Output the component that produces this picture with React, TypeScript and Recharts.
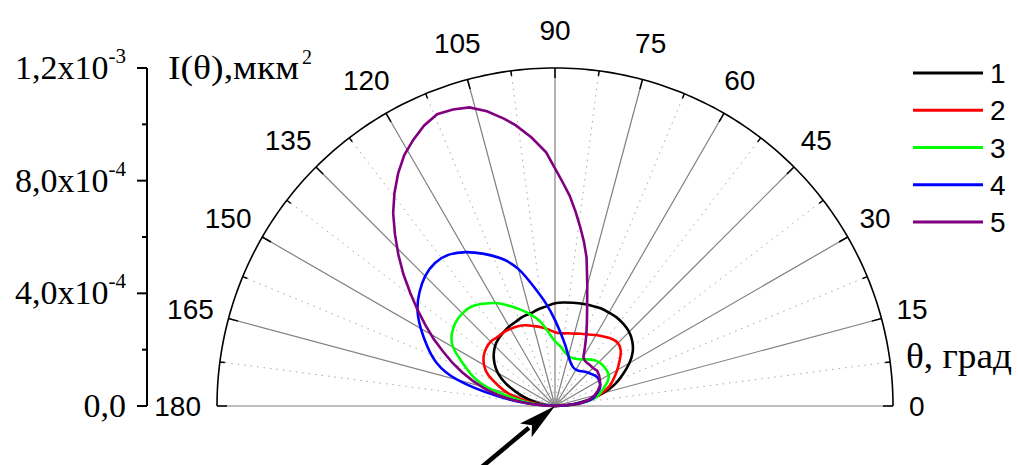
import React from 'react';
import { ComposedChart, Line, XAxis, YAxis, ReferenceLine, ReferenceDot, Legend } from 'recharts';

// ---------- data (radius values in units of 1e-4 µm²) ----------
const UNIT = 1e-4;
const R_MAX = 1.2e-3;

const ANGLES_5 = [0, 5, 10, 15, 20, 25, 30, 35, 40, 45, 50, 55, 60, 65, 70, 75, 80, 85, 90, 95, 100, 105, 110, 115, 120, 125, 130, 135, 140, 145, 150, 155, 160, 165, 170, 175, 180];

const R1 = [0, 0.53, 1.17, 1.77, 2.27, 2.66, 3.05, 3.37, 3.58, 3.72, 3.79, 3.83, 3.83, 3.83, 3.79, 3.76, 3.72, 3.69, 3.65, 3.55, 3.48, 3.4, 3.37, 3.3, 3.26, 3.19, 3.12, 3.01, 2.84, 2.62, 2.34, 1.95, 1.49, 1.06, 0.64, 0.28, 0];
const R2 = [0, 0.64, 1.28, 1.7, 2.06, 2.3, 2.55, 2.8, 3.05, 3.16, 3.12, 3.01, 2.91, 2.8, 2.73, 2.66, 2.62, 2.59, 2.62, 2.73, 2.84, 2.94, 3.05, 3.12, 3.16, 3.19, 3.19, 3.23, 3.19, 3.09, 2.91, 2.62, 2.16, 1.7, 1.06, 0.5, 0];
const R3 = [0, 0.71, 1.35, 1.63, 1.84, 2.06, 2.2, 2.23, 2.23, 2.2, 2.13, 2.02, 1.91, 1.84, 1.81, 1.84, 1.95, 2.13, 2.3, 2.62, 3.05, 3.37, 3.65, 3.94, 4.22, 4.43, 4.61, 4.65, 4.61, 4.47, 4.18, 3.62, 3.12, 2.41, 1.35, 0.6, 0];
const R4 = [0, 0.64, 1.28, 1.49, 1.67, 1.77, 1.81, 1.81, 1.74, 1.67, 1.6, 1.52, 1.49, 1.52, 1.63, 1.84, 2.16, 2.55, 3.05, 3.65, 4.29, 5.04, 5.57, 5.96, 6.31, 6.56, 6.63, 6.52, 6.28, 5.96, 5.5, 5.0, 4.47, 3.58, 2.13, 0.89, 0];

const ANGLES_5P = [0, 5, 10, 15, 20, 25, 30, 35, 40, 45, 50, 55, 58, 60, 63, 66, 69, 72, 75, 78, 80, 82, 84, 86, 88, 90, 92, 95, 98, 100, 103, 106, 109, 112, 115, 118, 121, 124, 127, 130, 133, 136, 139, 142, 145, 148, 151, 154, 157, 160, 163, 166, 169, 172, 175, 178, 180];
const R5 = [0, 0.85, 1.21, 1.45, 1.63, 1.77, 1.84, 1.91, 1.95, 1.91, 1.91, 1.91, 1.95, 2.02, 2.34, 2.73, 3.16, 3.69, 4.43, 5.39, 5.92, 6.42, 6.95, 7.48, 7.94, 8.44, 9.01, 9.57, 10.07, 10.35, 10.74, 11.03, 11.13, 11.17, 10.99, 10.71, 10.39, 9.96, 9.47, 8.94, 8.33, 7.73, 7.13, 6.52, 5.96, 5.43, 4.93, 4.43, 3.97, 3.51, 3.05, 2.59, 2.09, 1.52, 0.92, 0.35, 0];

const SERIES_NAMES = ['1', '2', '3', '4', '5'];
const SERIES_COLORS = ['#000000', '#ff0000', '#00ff00', '#0000ff', '#800080'];

const SPOKE_ANGLES = [0, 15, 30, 45, 60, 75, 90, 105, 120, 135, 150, 165, 180];
const MINOR_ANGLES = [7.5, 22.5, 37.5, 52.5, 67.5, 82.5, 97.5, 112.5, 127.5, 142.5, 157.5, 172.5];
const ANGLE_LABELS = ['0', '15', '30', '45', '60', '75', '90', '105', '120', '135', '150', '165', '180'];

const Y_TICKS = [0, 2e-4, 4e-4, 6e-4, 8e-4, 1e-3, 1.2e-3];
const Y_MANT = ['0,0', '4,0x10', '8,0x10', '1,2x10'];
const Y_EXP = ['', '-4', '-4', '-3'];

const Y_TITLE = 'I(θ),мкм';
const Y_TITLE_SUP = '2';
const X_TITLE = 'θ, град';

// ---------- layout ----------
const W = 1018;
const H = 465;
const CX = 555;
const CY = 406;
const RPX = 338;
const AXIS_X = 147;
const Y_AXIS_W = 140;
const X_MIN = -R_MAX * (CX - AXIS_X) / RPX;
const PX = R_MAX / RPX; // data units per pixel

const SERIF = '"Liberation Serif", "Times New Roman", serif';
const SANS = '"Liberation Sans", Arial, sans-serif';

const rad = (d: number) => (d * Math.PI) / 180;
const toXY = (angles: number[], radii: number[]) =>
  angles.map((a, i) => ({ x: radii[i] * UNIT * Math.cos(rad(a)), y: Math.max(0, radii[i] * UNIT * Math.sin(rad(a))) }));
const polar = (deg: number, r: number) => ({ x: r * Math.cos(rad(deg)), y: Math.max(0, Math.min(R_MAX, r * Math.sin(rad(deg)))) });

const SERIES = [
  toXY(ANGLES_5, R1),
  toXY(ANGLES_5, R2),
  toXY(ANGLES_5, R3),
  toXY(ANGLES_5, R4),
  toXY(ANGLES_5P, R5),
];
const SERIES_CURVE = ['natural', 'natural', 'natural', 'natural', 'linear'];

const ARC_ANGLES: number[] = [];
for (let a = 0; a <= 180; a += 1) ARC_ANGLES.push(a);
const ARC = ARC_ANGLES.map((a) => polar(a, R_MAX));

const YTick = (props: any) => {
  const { x, y, payload } = props;
  const k = Math.round(payload.value / UNIT);
  const major = k % 4 === 0;
  const idx = k / 4;
  return (
    <g>
      <line x1={x - (major ? 10 : 5)} x2={x} y1={y} y2={y} stroke="#000" strokeWidth={2} />
      {major && (
        <text x={x - 21} y={y + 11} textAnchor="end" fontFamily={SERIF} fontSize={34} fill="#000">
          {Y_MANT[idx]}
          {Y_EXP[idx] ? (
            <tspan dy={-16} fontSize={21}>
              {Y_EXP[idx]}
            </tspan>
          ) : null}
        </text>
      )}
    </g>
  );
};

const angleLabelShape = (deg: number, label: string) => (p: any) => {
  const t = rad(deg);
  const w = label.length * 15.6;
  const tx = p.cx + Math.cos(t) * (16 + w / 2);
  const ty = p.cy - 38 * Math.sin(t);
  return (
    <text x={tx} y={ty + 10} textAnchor="middle" fontFamily={SANS} fontSize={28} fill="#000">
      {label}
    </text>
  );
};

const yTitleShape = (p: any) => (
  <g>
    <text
      x={p.cx + 21}
      y={p.cy + 11}
      fontFamily={SERIF}
      fontSize={33}
      fill="#000"
      textLength={131}
      lengthAdjust="spacingAndGlyphs"
    >
      {Y_TITLE}
    </text>
    <text x={p.cx + 155} y={p.cy - 4} fontFamily={SERIF} fontSize={20} fill="#000">
      {Y_TITLE_SUP}
    </text>
  </g>
);

const xTitleShape = (p: any) => (
  <text
    x={p.cx + 13}
    y={p.cy - 38}
    fontFamily={SERIF}
    fontSize={35}
    fill="#000"
    textLength={106}
    lengthAdjust="spacingAndGlyphs"
  >
    {X_TITLE}
  </text>
);

const arrowShape = (p: any) => {
  const { x1, y1, x2, y2 } = p;
  const dx = x2 - x1;
  const dy = y2 - y1;
  const len = Math.sqrt(dx * dx + dy * dy);
  const ux = dx / len;
  const uy = dy / len;
  const hl = 38;
  const hw = 9;
  const bx = x2 - ux * hl;
  const by = y2 - uy * hl;
  const nx = -uy;
  const ny = ux;
  return (
    <g>
      <line x1={x1} y1={y1} x2={bx + ux * 4} y2={by + uy * 4} stroke="#000" strokeWidth={4.5} />
      <polygon
        points={`${x2},${y2} ${bx + nx * hw},${by + ny * hw} ${bx + ux * 8},${by + uy * 8} ${bx - nx * hw},${by - ny * hw}`}
        fill="#000"
      />
    </g>
  );
};

const renderLegend = (props: any) => {
  const items = (props.payload || []).filter((p: any) => SERIES_NAMES.includes(String(p.value)));
  return (
    <svg width={113} height={190}>
      {items.map((p: any, i: number) => {
        const y = 18 + i * 37.25;
        return (
          <g key={i}>
            <line x1={8} x2={78} y1={y} y2={y} stroke={p.color} strokeWidth={3} />
            <text x={85} y={y + 10} fontFamily={SANS} fontSize={28} fill="#000">
              {p.value}
            </text>
          </g>
        );
      })}
    </svg>
  );
};

export default function App() {
  const tickMajor = 10 * PX;
  const tickMinor = 5 * PX;
  return (
    <div style={{ position: 'absolute', left: 0, top: 0, width: W, height: H, background: '#fff' }}>
      <ComposedChart
        width={W}
        height={H}
        margin={{ top: CY - RPX, right: W - (CX + RPX), bottom: H - CY, left: AXIS_X - Y_AXIS_W }}
      >
        <XAxis type="number" dataKey="x" domain={[X_MIN, R_MAX]} hide />
        <YAxis
          type="number"
          domain={[0, R_MAX]}
          ticks={Y_TICKS}
          interval={0}
          width={Y_AXIS_W}
          tickSize={0}
          tickMargin={0}
          tickLine={false}
          axisLine={{ stroke: '#000', strokeWidth: 2 }}
          tick={<YTick />}
        />

        {MINOR_ANGLES.map((a) => (
          <ReferenceLine
            key={'m' + a}
            segment={[{ x: 0, y: 0 }, polar(a, R_MAX)]}
            stroke="#a8a8a8"
            strokeWidth={1}
            strokeDasharray="1.5 5"
            ifOverflow="visible"
          />
        ))}
        {SPOKE_ANGLES.map((a) => (
          <ReferenceLine
            key={'s' + a}
            segment={[{ x: 0, y: 0 }, polar(a, R_MAX)]}
            stroke="#808080"
            strokeWidth={1.2}
            ifOverflow="visible"
          />
        ))}
        {SPOKE_ANGLES.map((a) => (
          <ReferenceLine
            key={'tM' + a}
            segment={[polar(a, R_MAX - tickMajor), polar(a, R_MAX)]}
            stroke="#000"
            strokeWidth={1.5}
            ifOverflow="visible"
          />
        ))}
        {MINOR_ANGLES.map((a) => (
          <ReferenceLine
            key={'tm' + a}
            segment={[polar(a, R_MAX - tickMinor), polar(a, R_MAX)]}
            stroke="#000"
            strokeWidth={1.5}
            ifOverflow="visible"
          />
        ))}

        <Line
          data={ARC}
          dataKey="y"
          stroke="#000"
          strokeWidth={1.6}
          dot={false}
          activeDot={false}
          legendType="none"
          isAnimationActive={false}
          type="linear"
        />

        {SERIES.map((d, i) => (
          <Line
            key={SERIES_NAMES[i]}
            name={SERIES_NAMES[i]}
            data={d}
            dataKey="y"
            stroke={SERIES_COLORS[i]}
            strokeWidth={2.6}
            dot={false}
            activeDot={false}
            isAnimationActive={false}
            type={SERIES_CURVE[i] as any}
          />
        ))}

        {SPOKE_ANGLES.map((a, i) => {
          const p = polar(a, R_MAX);
          return (
            <ReferenceDot
              key={'l' + a}
              x={p.x}
              y={p.y}
              r={0}
              ifOverflow="visible"
              shape={angleLabelShape(a, ANGLE_LABELS[i])}
            />
          );
        })}
        <ReferenceDot x={X_MIN} y={R_MAX} r={0} ifOverflow="visible" shape={yTitleShape} />
        <ReferenceDot x={R_MAX} y={0} r={0} ifOverflow="visible" shape={xTitleShape} />
        <ReferenceLine
          segment={[{ x: -72 * 2 * PX, y: -60 * 2 * PX }, { x: 0, y: 0 }]}
          ifOverflow="visible"
          shape={arrowShape}
        />

        <Legend
          layout="horizontal"
          verticalAlign="middle"
          align="center"
          wrapperStyle={{ position: 'absolute', left: 905, top: 55, width: 113, height: 190 }}
          content={renderLegend}
        />
      </ComposedChart>
    </div>
  );
}
